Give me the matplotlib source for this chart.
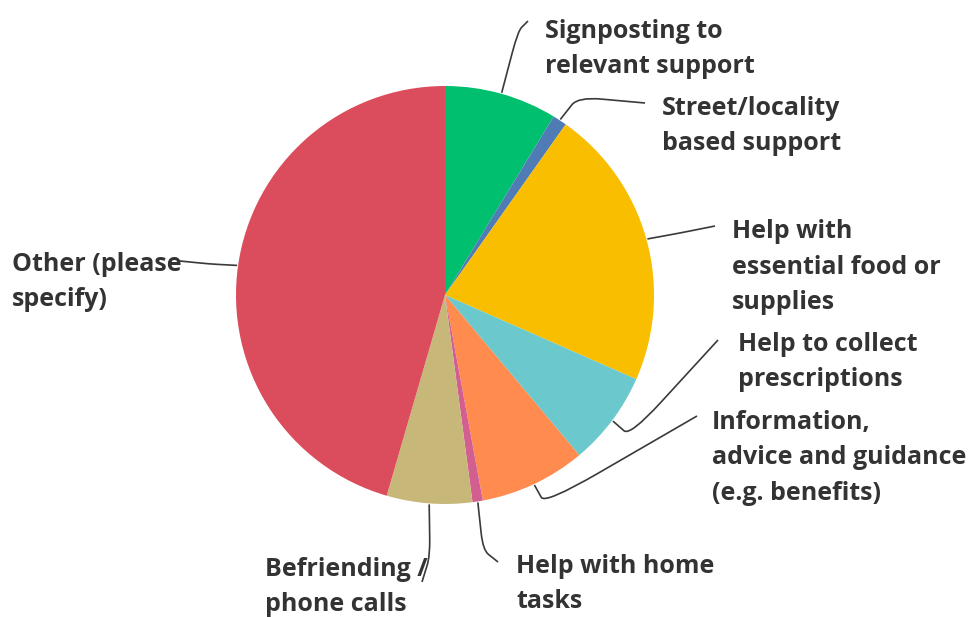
import numpy as np
import matplotlib

matplotlib.use("Agg")
import matplotlib.pyplot as plt
from matplotlib.path import Path
from matplotlib.patches import PathPatch

W, H = 970, 617

labels = [
    "Signposting to\nrelevant support",
    "Street/locality\nbased support",
    "Help with\nessential food or\nsupplies",
    "Help to collect\nprescriptions",
    "Information,\nadvice and guidance\n(e.g. benefits)",
    "Help with home\ntasks",
    "Befriending /\nphone calls",
    "Other (please\nspecify)",
]
shares = [8.7, 1.1, 21.8, 7.3, 8.2, 0.8, 6.6, 45.5]
colors = ["#00bf6f", "#507cb6", "#f9be00", "#6bc8cd", "#ff8b4f", "#d25f90", "#c7b879", "#db4d5c"]

# label block centre (pixel coords, y from top), left aligned
label_pos = [(545, 49), (662, 126), (732, 267), (738, 362), (712, 458), (516, 584), (265, 587), (12, 282)]
# leader lines: bend point and end point near the text (pixel coords)
bends = [(518, 31), (578, 97), (680, 233), (630, 436), (545, 504), (483, 550), (430, 556), (210, 264)]
ends = [(528, 21), (645, 103), (715, 226), (718, 340), (697, 416), (498, 562), (422, 582), (180, 261)]

CX, CY, R = 445, 295, 209


def fy(y):
    return H - y


def leader(ax, p0, p1, p2):
    # two segments with a rounded corner at p1
    p0, p1, p2 = np.array(p0, float), np.array(p1, float), np.array(p2, float)
    a = p1 + (p0 - p1) * 0.35
    b = p1 + (p2 - p1) * 0.35
    verts = [p0, a, p1, b, p2]
    codes = [Path.MOVETO, Path.LINETO, Path.CURVE3, Path.CURVE3, Path.LINETO]
    ax.add_patch(PathPatch(Path(verts, codes), fill=False, edgecolor="#3a3a3a", linewidth=1.2))


fig = plt.figure(figsize=(W / 100, H / 100), dpi=100)
ax = fig.add_axes([0, 0, 1, 1])

wedges, _ = ax.pie(shares, colors=colors, startangle=90, counterclock=False,
                   center=(CX, fy(CY)), radius=R, wedgeprops=dict(linewidth=0))

for w, lab, (tx, ty), bend, end in zip(wedges, labels, label_pos, bends, ends):
    mid = np.deg2rad((w.theta1 + w.theta2) / 2)
    start = (CX + (R + 1) * np.cos(mid), fy(CY) + (R + 1) * np.sin(mid))
    leader(ax, start, (bend[0], fy(bend[1])), (end[0], fy(end[1])))
    ax.text(tx, fy(ty), lab, ha="left", va="center", fontsize=18, fontweight="bold",
            family="Open Sans", color="#333333", linespacing=1.57)

ax.set_xlim(0, W)
ax.set_ylim(0, H)
ax.set_aspect("equal")
ax.axis("off")

fig.savefig("out.png", dpi=100)
